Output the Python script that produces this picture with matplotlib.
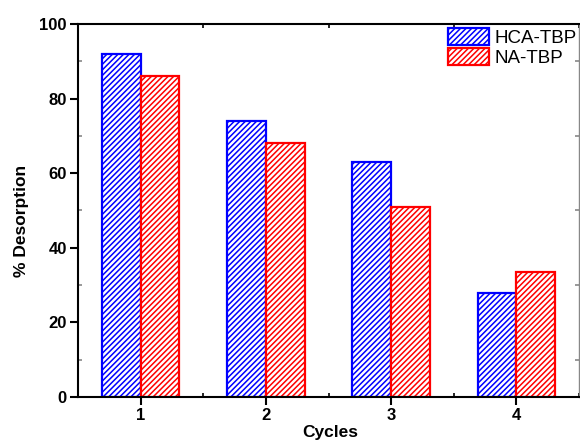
import matplotlib
matplotlib.use("Agg")
import matplotlib.pyplot as plt
from matplotlib.ticker import MultipleLocator
import numpy as np

plt.rcParams['font.family'] = ['Liberation Sans', 'DejaVu Sans']
plt.rcParams['hatch.linewidth'] = 1.1

cycles = [1, 2, 3, 4]
hca_tbp = [92, 74, 63, 28]
na_tbp = [86, 68, 51, 33.5]
series_names = ["HCA-TBP", "NA-TBP"]

fig = plt.figure(figsize=(5.8, 4.41), dpi=100)
ax = fig.add_axes([0.1345, 0.0998, 0.864, 0.8458])

x = np.array(cycles, dtype=float)
w = 0.31
ax.bar(x - w / 2, hca_tbp, width=w, facecolor='white', edgecolor='#0000ff',
       hatch='//////', linewidth=1.6, label=series_names[0])
ax.bar(x + w / 2, na_tbp, width=w, facecolor='white', edgecolor='#ff0000',
       hatch='//////', linewidth=1.6, label=series_names[1])

ax.set_xlim(0.5, 4.5)
ax.set_ylim(0, 100)
ax.set_xticks(cycles)
ax.xaxis.set_minor_locator(MultipleLocator(0.5))
ax.yaxis.set_major_locator(MultipleLocator(20))
ax.yaxis.set_minor_locator(MultipleLocator(10))

for s in ax.spines.values():
    s.set_linewidth(1.5)
ax.spines['right'].set_linewidth(1.0)
ax.spines['right'].set_color('#888888')

ax.tick_params(axis='both', which='major', direction='out', length=6, width=1.5,
               labelsize=12, pad=2)
ax.tick_params(axis='both', which='minor', direction='in', length=3, width=1.2)
ax.tick_params(axis='x', which='minor', top=True)
ax.tick_params(axis='y', which='minor', right=True, color='#888888')
for lab in ax.get_xticklabels() + ax.get_yticklabels():
    lab.set_fontweight('bold')

ax.set_xlabel('Cycles', fontsize=12.5, fontweight='bold', va='center')
ax.set_ylabel('% Desorption', fontsize=12.5, fontweight='bold', va='center')
ax.xaxis.set_label_coords(0.504, -0.094)
ax.yaxis.set_label_coords(-0.112, 0.472)

ax.legend(loc='upper right', bbox_to_anchor=(0.995, 0.99), frameon=False,
          fontsize=13.5, handlelength=2.2, handleheight=1.0,
          handletextpad=0.27, labelspacing=0.1, borderaxespad=0.0,
          borderpad=0.0)

fig.savefig('out.png', dpi=100)
